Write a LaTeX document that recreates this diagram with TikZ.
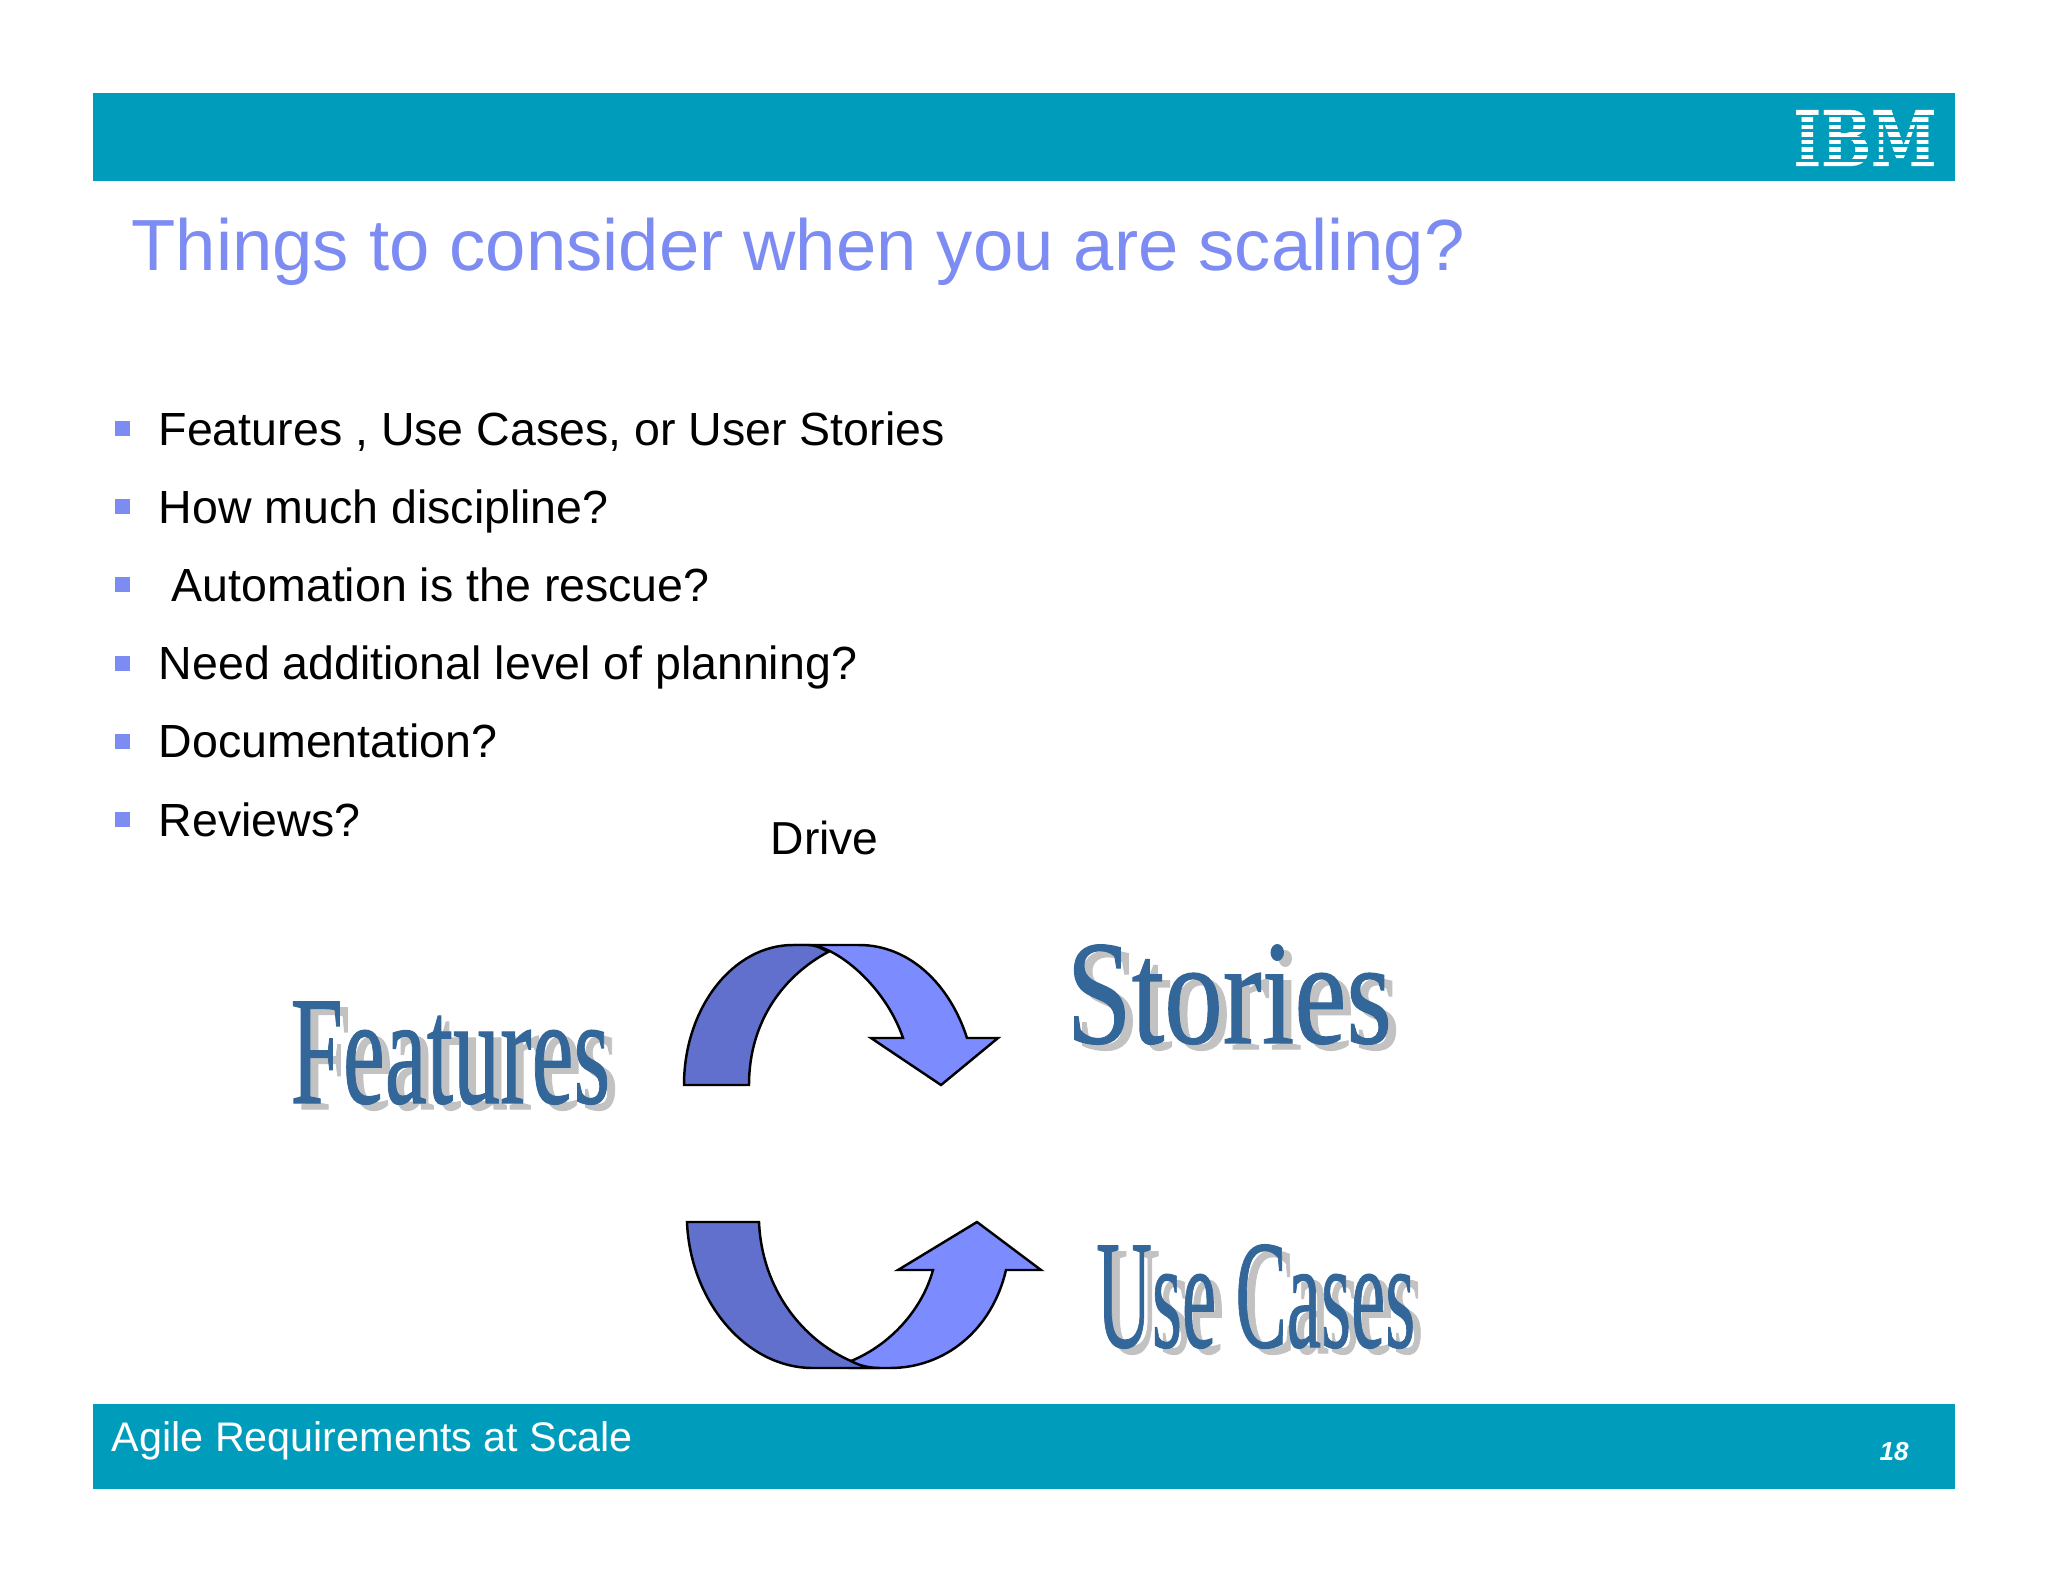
\documentclass[tikz,border=0pt]{standalone}
\usepackage{fontspec}
\setmainfont{Liberation Sans}
\newfontfamily\wordfont[FakeBold=0.8]{Liberation Serif}
\newfontfamily\logofont[FakeBold=0.6]{DejaVu Serif}
\definecolor{bandteal}{HTML}{009CBC}
\definecolor{titleblue}{HTML}{7C8CF2}
\definecolor{arrowlight}{HTML}{7C8CFF}
\definecolor{arrowdark}{HTML}{6170CC}
\definecolor{wordblue}{HTML}{336699}
\definecolor{wordgrey}{HTML}{C2C2C2}
\tikzset{
  band/.style={fill=bandteal, draw=none},
  txt/.style={anchor=base west, inner sep=0pt},
  bullettxt/.style={txt, font=\fontsize{13.23}{15}\selectfont},
  bulletmark/.style={fill=titleblue, draw=none},
  arrowpart/.style={draw=black, line width=0.7pt, line join=miter},
  wordart/.style={txt, text=wordblue, font=\wordfont\fontsize{44}{44}\selectfont},
  wordshadow/.style={wordart, text=wordgrey}
}
\begin{document}
\begin{tikzpicture}[x=0.01cm, y=-0.01cm]
    \useasboundingbox (0, 0) rectangle (2048, 1582);
    \fill[white] (0, 0) rectangle (2048, 1582);

    % Bands
    \fill[band] (93, 93) rectangle (1955, 181);
    \fill[band] (93, 1404) rectangle (1955, 1489);

    % Logo
    \node[txt, text=white, font=\logofont\bfseries\fontsize{21.8}{22}\selectfont, xscale=.77] (logo) at (1793, 166) {IBM};
    \foreach \k in {0,...,6}
        \fill[band] (1788, 110+4.6+\k*7.43) rectangle (1938, 110+7.43+\k*7.43);

    % Title
    \node[txt, text=titleblue, font=\fontsize{20.6}{22}\selectfont] (title) at (131, 271) {Things to consider when you are scaling?};

    % Bullets
    \foreach \i/\x/\t in {0/158/{Features , Use Cases, or User Stories}, 1/158/{How much discipline?}, 2/171/{Automation is the rescue?}, 3/158/{Need additional level of planning?}, 4/158/{Documentation?}, 5/158/{Reviews?}} {
        \fill[bulletmark] (115, 421+\i*78.2) rectangle (130, 436+\i*78.2);
        \node[bullettxt] (item\i) at (\x, 445+\i*78.2) {\t};
    }
    \node[txt, font=\fontsize{13.15}{15}\selectfont] (drive) at (770, 854) {Drive};

    % Upper arrow
    \draw[arrowpart, fill=arrowlight] (793, 945) -- (859, 945) .. controls (910, 945) and (950, 985) .. (967, 1038)
        -- (998, 1038) -- (941, 1085) -- (871, 1038) -- (903, 1038) .. controls (885, 985) and (835, 945) .. (808, 945) -- cycle;
    \draw[arrowpart, fill=arrowdark] (684, 1085) .. controls (684, 1008) and (733, 945) .. (793, 945) -- (808, 945)
        .. controls (815, 945) and (822, 948) .. (828, 952) .. controls (785, 975) and (749, 1020) .. (749, 1085) -- cycle;

    % Lower arrow
    \draw[arrowpart, fill=arrowlight] (850, 1368) -- (890, 1368) .. controls (945, 1368) and (992, 1330) .. (1006, 1270)
        -- (1041, 1270) -- (977, 1222) -- (898, 1270) -- (933, 1270) .. controls (922, 1310) and (890, 1345) .. (851, 1361) -- cycle;
    \draw[arrowpart, fill=arrowdark] (687, 1222) .. controls (690, 1300) and (745, 1368) .. (813, 1368) -- (880, 1368)
        .. controls (870, 1368) and (860, 1366) .. (851, 1361) .. controls (803, 1340) and (762, 1290) .. (759, 1222) -- cycle;

    % Word art
    \node[wordshadow, xscale=.61] (featuresback) at (298, 1109) {Features};
    \node[wordart, xscale=.61] (features) at (290, 1103) {Features};
    \node[wordshadow, xscale=.757, yscale=.96] (storiesback) at (1074, 1049) {Stories};
    \node[wordart, xscale=.757, yscale=.96] (stories) at (1066, 1043) {Stories};
    \node[wordshadow, xscale=.498] (usecasesback) at (1104, 1353) {Use Cases};
    \node[wordart, xscale=.498] (usecases) at (1096, 1347) {Use Cases};

    % Footer
    \node[txt, text=white, font=\fontsize{11.75}{13}\selectfont] (footer) at (111, 1451) {Agile Requirements at Scale};
    \node[txt, text=white, font=\bfseries\itshape\fontsize{7.4}{9}\selectfont] (page) at (1879, 1460) {18};
\end{tikzpicture}
\end{document}
